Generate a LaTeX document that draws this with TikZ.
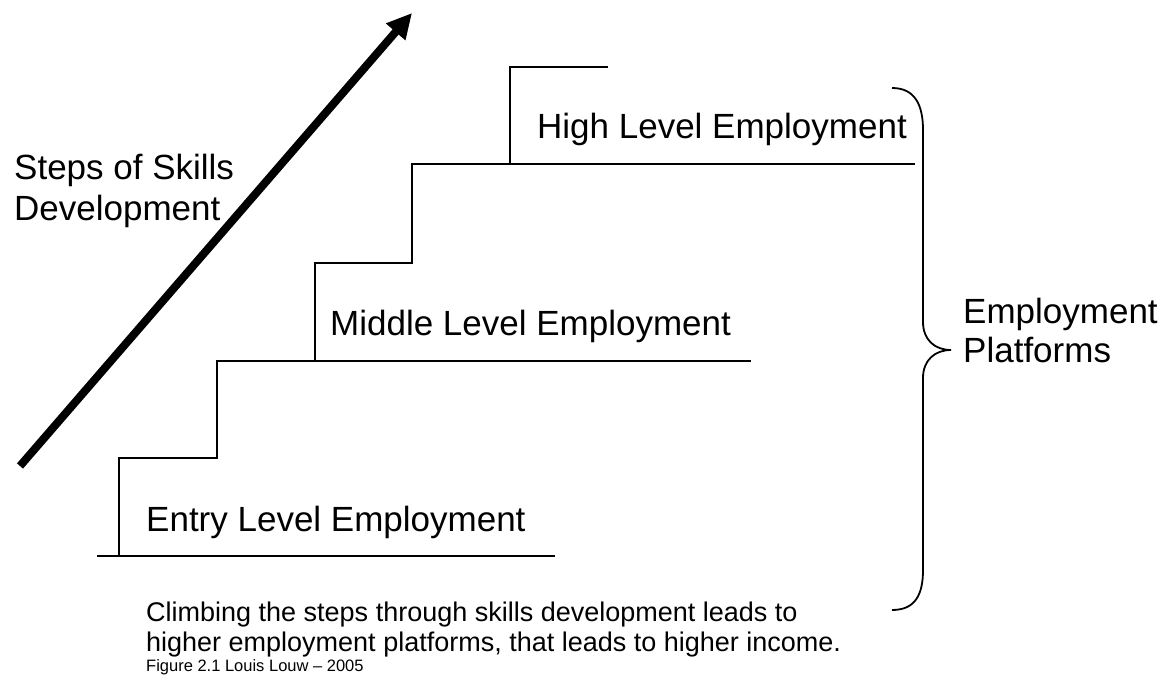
\documentclass[tikz,border=0pt]{standalone}
\usepackage{fontspec}
\setmainfont{Liberation Sans}
\usetikzlibrary{arrows.meta,positioning}

\begin{document}
\begin{tikzpicture}[x=1pt,y=-1pt,>={Triangle[length=25pt,width=24pt]}]

    \tikzstyle{level}=[anchor=base west,inner sep=0pt,font=\fontsize{35}{40}\selectfont]
    \tikzstyle{caption}=[anchor=base west,inner sep=0pt,font=\fontsize{27}{30}\selectfont]
    \tikzstyle{source}=[anchor=base west,inner sep=0pt,font=\fontsize{16.5}{18}\selectfont]
    \tikzstyle{stair}=[line width=1.8pt]

    \useasboundingbox (0,0) rectangle (1165,677);

    % the steps
    \begin{scope}
        \draw [stair] (97,556) -- (555,556);
        \draw [stair] (119,556) |- (217,458) |- (751,361);
        \draw [stair] (315,361) |- (412,263) |- (915,164);
        \draw [stair] (510,164) |- (608,67);
    \end{scope}

    \node [level] (entry) at (146,531) {Entry Level Employment};
    \node [level] (middle) at (330,335) {Middle Level Employment};
    \node [level] (high) at (537,138) {High Level Employment};

    % skills arrow
    \node [level] (steps) at (14,179) {Steps of Skills};
    \node [level] (devel) at (14,220) {Development};
    \coordinate (tail) at (20,466);
    \coordinate (head) at (412,13);
    \draw [->,line width=8pt] (tail) -- (head);

    % platforms brace
    \draw [stair] (892,88) .. controls (915,88) and (923,105) .. (923,130)
        -- (923,322) .. controls (923,340) and (935,350) .. (951,350)
        .. controls (935,350) and (923,360) .. (923,378)
        -- (923,570) .. controls (923,595) and (915,610) .. (892,610);
    \node [level] (emp) at (963,323) {Employment};
    \node [level] (plat) at (963,362) {Platforms};

    \node [caption] (cap1) at (146,621) {Climbing the steps through skills development leads to};
    \node [caption] (cap2) at (146,651) {higher employment platforms, that leads to higher income.};
    \node [source] (fig) at (146,671) {Figure 2.1 Louis Louw -- 2005};

%   \draw [red] (0,0) rectangle (1165,677);
\end{tikzpicture}
\end{document}
